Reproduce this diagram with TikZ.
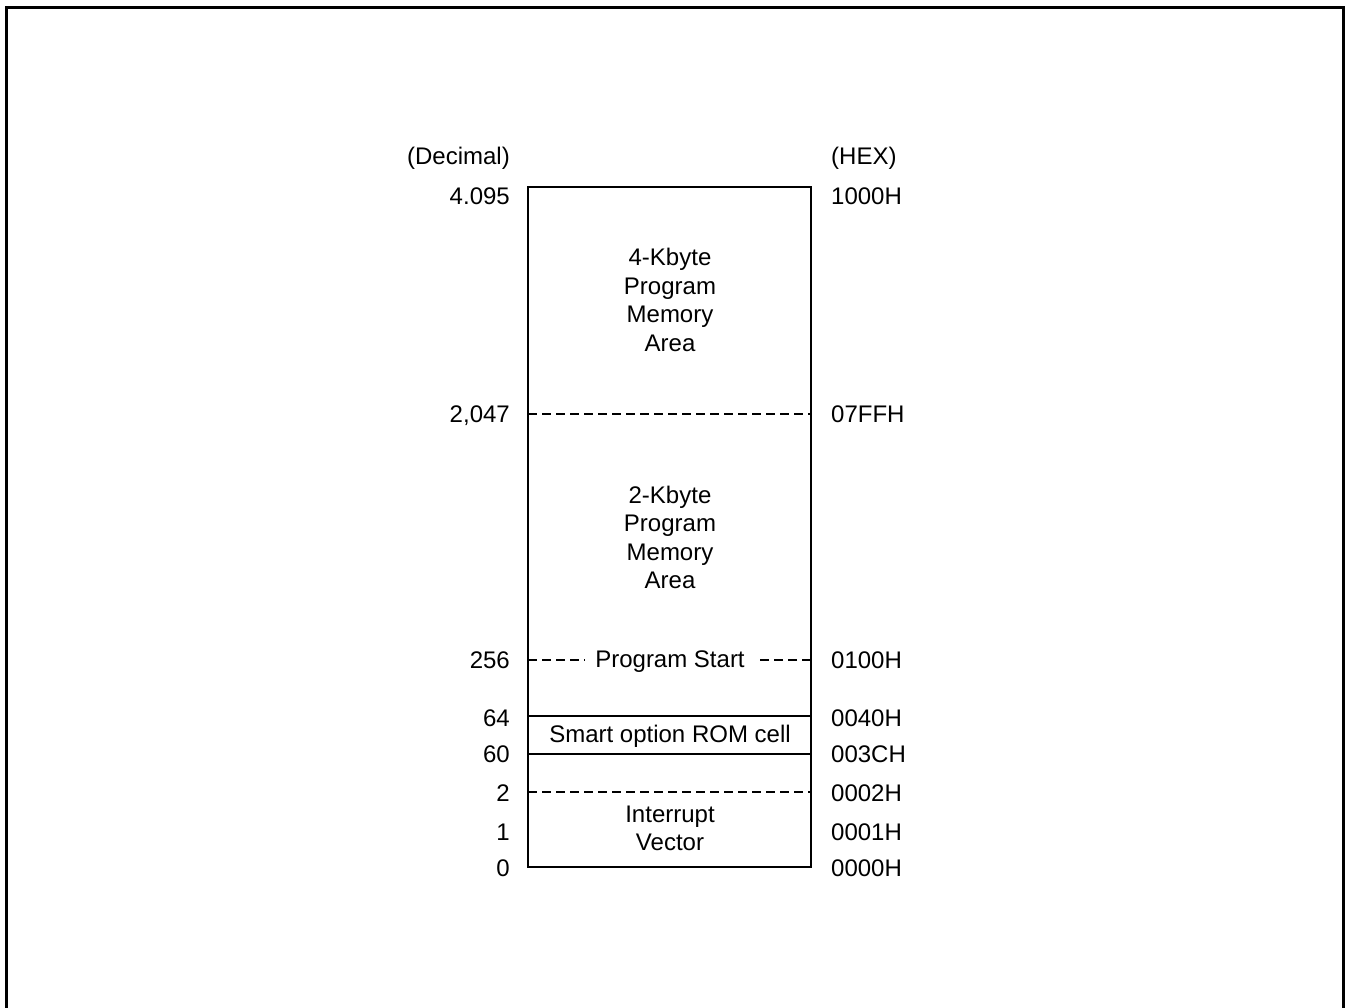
\documentclass[tikz,border=0pt]{standalone}
\usepackage{fontspec}
\setmainfont{Liberation Sans}
\begin{document}
\begin{tikzpicture}[x=1pt,y=-1pt,
  txt/.style={font=\fontsize{24}{28.5}\selectfont, inner sep=0pt},
  dec/.style={txt, anchor=base east},
  hex/.style={txt, anchor=base west},
  blk/.style={txt, align=center, anchor=center},
  frameline/.style={line width=3pt},
  boxline/.style={line width=1.5pt},
  dashline/.style={line width=1.2pt, dash pattern=on 9pt off 5pt}]
\useasboundingbox (0,0) rectangle (1345,1008);
% outer frame
\draw[frameline] (6,1008) -- (6,8) -- (1343,8) -- (1343,1008);
% memory box
\coordinate (Ltop) at (528,187);
\coordinate (Rbot) at (811,867);
\draw[boxline] (Ltop) rectangle (Rbot);
% boundaries
\coordinate (L2047) at (528,414);  \coordinate (R2047) at (811,414);
\coordinate (L256)  at (528,660);  \coordinate (R256)  at (811,660);
\coordinate (L64)   at (528,716);  \coordinate (R64)   at (811,716);
\coordinate (L60)   at (528,754);  \coordinate (R60)   at (811,754);
\coordinate (L2)    at (528,792);  \coordinate (R2)    at (811,792);
\draw[dashline] (L2047) -- (R2047);
\draw[boxline] (L64) -- (R64);
\draw[boxline] (L60) -- (R60);
\draw[dashline] (L2) -- (R2);
\node[txt, anchor=base, inner xsep=11pt] (ps) at (670,667.5) {Program Start};
\draw[dashline] (L256) -- (ps.west |- L256);
\draw[dashline] (R256) -- (ps.east |- R256);
% block texts
\node[blk] (k4) at (670,300) {4-Kbyte\\Program\\Memory\\Area};
\node[blk] (k2) at (670,537.5) {2-Kbyte\\Program\\Memory\\Area};
\node[txt, anchor=base] (smart) at (670,742) {Smart option ROM cell};
\node[blk] (iv) at (670,828.5) {Interrupt\\Vector};
% headers
\node[dec] (dhead) at (510,165) {(Decimal)};
\node[hex] (hhead) at (831,165) {(HEX)};
% address labels
\node[dec] (d4095) at (510,204.5) {4.095};  \node[hex] (h1000) at (831,204.5) {1000H};
\node[dec] (d2047) at (510,422.5) {2,047};  \node[hex] (h07FF) at (831,422.5) {07FFH};
\node[dec] (d256)  at (510,668)   {256};    \node[hex] (h0100) at (831,668)   {0100H};
\node[dec] (d64)   at (510,726.5) {64};     \node[hex] (h0040) at (831,726.5) {0040H};
\node[dec] (d60)   at (510,762.5) {60};     \node[hex] (h003C) at (831,762.5) {003CH};
\node[dec] (d2)    at (510,801.5) {2};      \node[hex] (h0002) at (831,801.5) {0002H};
\node[dec] (d1)    at (510,840)   {1};      \node[hex] (h0001) at (831,840)   {0001H};
\node[dec] (d0)    at (510,876.5) {0};      \node[hex] (h0000) at (831,876.5) {0000H};
\end{tikzpicture}
\end{document}
